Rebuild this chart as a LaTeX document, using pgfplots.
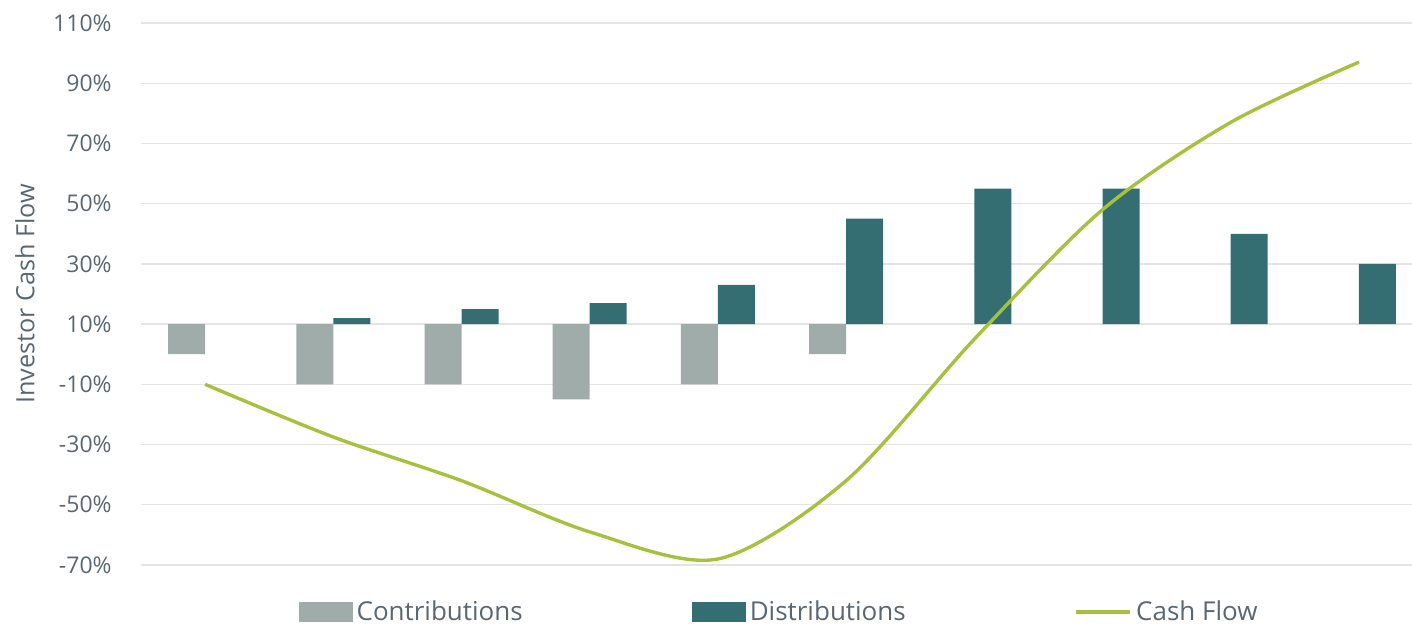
\documentclass[border=0pt]{standalone}
\usepackage{fontspec}
\setmainfont{Open Sans}
\usepackage{pgfplots}
\pgfplotsset{compat=1.18}
\usepackage{pgfplotstable}

\definecolor{contribcol}{HTML}{9FACAA}
\definecolor{distribcol}{HTML}{346E73}
\definecolor{flowcol}{HTML}{A6C13D}
\definecolor{labelcol}{HTML}{5B6770}
\definecolor{gridcol}{HTML}{E4E4E4}

% Bar ends as read on the axis; the bars grow from the 10% line.
\pgfplotstableread{
x end
0 0
1 -10
2 -10
3 -15
4 -10
5 0
}\contributions
\pgfplotstableread{
x end
1 12
2 15
3 17
4 23
5 45
6 55
7 55
8 40
9 30
}\distributions
\pgfplotstableread{
x cf
0 -10
1 -27.5
2 -42
3 -59
4 -68
5 -42
6 5
7 48
8 77
9 97
}\cashflow
% level the bars start from (values are drawn relative to it)
\def\barbase{10}

\begin{document}
\begin{tikzpicture}
\path[use as bounding box] (0,0) rectangle (706pt,312.5pt);
\begin{axis}[
  at={(70.5pt,30pt)}, anchor=south west,
  scale only axis, width=641pt, height=271pt,
  xmin=-0.5, xmax=9.5,
  ymin=-80, ymax=100,
  axis line style={draw=none},
  major tick style={draw=none},
  xtick=\empty,
  ytick={-80,-60,...,100},
  yticklabels={-70\%,-50\%,-30\%,-10\%,10\%,30\%,50\%,70\%,90\%,110\%},
  ymajorgrids,
  major grid style={draw=gridcol, line width=0.7pt},
  yticklabel style={font=\fontsize{11.5}{13}\selectfont, text=labelcol, anchor=east, inner sep=0pt},
  yticklabel shift=14.5pt,
  ylabel={Investor Cash Flow},
  ylabel style={at={(axis description cs:-0.0905,0.5)}, anchor=center, font=\fontsize{12.6}{14}\selectfont, text=labelcol},
  legend columns=3,
  legend style={at={(0.4985,-0.0867)}, anchor=center, draw=none, fill=none,
    font=\fontsize{13}{15}\selectfont, text=labelcol,
    /tikz/every even column/.append style={column sep=82.5pt}},
  clip=false,
]
\addplot[ybar, bar width=18.5pt, bar shift=-9.25pt, fill=contribcol, draw=none,
  legend image code/.code={\fill[contribcol] (0pt,-5pt) rectangle (27pt,5pt);}]
  table[x=x, y expr=\thisrow{end}-\barbase] {\contributions};
\addlegendentry{Contributions}
\addplot[ybar, bar width=18.5pt, bar shift=9.25pt, fill=distribcol, draw=none,
  legend image code/.code={\fill[distribcol] (0pt,-5pt) rectangle (27pt,5pt);}]
  table[x=x, y expr=\thisrow{end}-\barbase] {\distributions};
\addlegendentry{Distributions}
\addplot[flowcol, line width=1.7pt, smooth, no markers,
  legend image code/.code={\draw[flowcol, line width=1.7pt] (0pt,0pt) -- (27pt,0pt);}]
  table[x=x, y expr=\thisrow{cf}-\barbase] {\cashflow};
\addlegendentry{Cash Flow}
\end{axis}
\end{tikzpicture}
\end{document}
